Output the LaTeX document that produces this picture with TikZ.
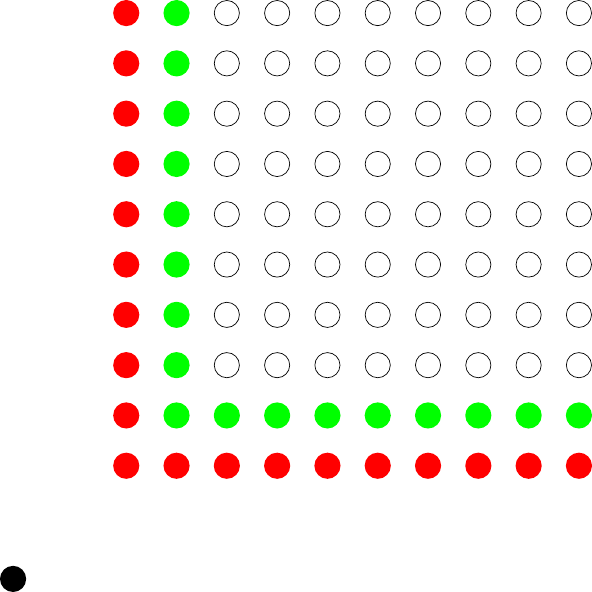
\documentclass[tikz,border=0pt]{standalone}
\usepackage{tikz}

\begin{document}
\begin{tikzpicture}[
  pt/.style={circle, inner sep=0pt, minimum size=5.2mm},
  redpt/.style={pt, fill=red},
  greenpt/.style={pt, fill=green},
  openpt/.style={pt, draw=black, fill=white, minimum size=5mm}
]
  \useasboundingbox (-0.26,-0.26) rectangle (11.51,11.51);
  \node[pt, fill=black] (origin) at (0,0) {};

  % lattice points: first row/column red, second green, rest open
  \foreach \i in {0,...,9}{
    \foreach \j in {0,...,9}{
      \pgfmathtruncatemacro\m{min(\i,\j)}
      \ifcase\m \def\st{redpt}\or \def\st{greenpt}\else \def\st{openpt}\fi
      \node[\st] (p-\i-\j) at ({2.25+\i},{2.25+\j}) {};
    }
  }
\end{tikzpicture}
\end{document}
